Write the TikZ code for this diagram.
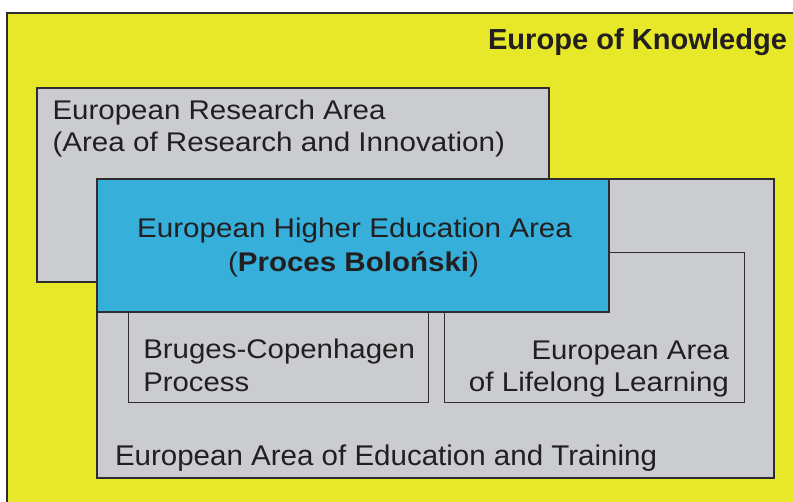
\documentclass[tikz,border=0pt]{standalone}
\usepackage{fontspec}
\usepackage{graphicx}
\setmainfont{Liberation Sans}
\definecolor{kyellow}{RGB}{232,232,42}
\definecolor{kgrey}{RGB}{203,204,208}
\definecolor{kblue}{RGB}{54,175,219}
\definecolor{ktext}{RGB}{35,31,32}
\definecolor{kline}{RGB}{45,45,45}
\tikzset{
  area/.style={draw=kline, line width=1.3pt, inner sep=0pt, outer sep=0pt, anchor=north west},
  subarea/.style={draw=kline, line width=1pt, inner sep=0pt, outer sep=0pt, anchor=north west, fill=kgrey},
  lbl/.style={inner sep=0pt, outer sep=0pt, text=ktext, font=\fontsize{27}{30}\selectfont},
  ttl/.style={inner sep=0pt, outer sep=0pt, text=ktext, font=\fontsize{29}{32}\selectfont\bfseries},
}
\begin{document}
\begin{tikzpicture}[x=1pt,y=-1pt]
\useasboundingbox (0,0) rectangle (793,502);
\clip (0,0) rectangle (793,502);
\fill[white] (0,0) rectangle (793,502);
% outer yellow area
\node[area, fill=kyellow, minimum width=800pt, minimum height=500pt] (europe) at (7,13) {};
\node[ttl, anchor=base west] (europeT) at (488,49.5) {\resizebox{299pt}{\height}{Europe of Knowledge}};
% research area
\node[area, fill=kgrey, minimum width=512pt, minimum height=194pt] (era) at (37,88) {};
\node[lbl, anchor=base west] (eraA) at (52.5,119.3) {\resizebox{333pt}{\height}{European Research Area}};
\node[lbl, anchor=base west] (eraB) at (52.5,151.7) {\resizebox{452.5pt}{\height}{(Area of Research and Innovation)}};
% education and training
\node[area, fill=kgrey, minimum width=677pt, minimum height=299pt] (eaet) at (97,179) {};
\node[lbl, anchor=base west, font=\fontsize{28.5}{31}\selectfont] (eaetT) at (115,466) {\resizebox{542pt}{\height}{European Area of Education and Training}};
% lifelong learning
\node[subarea, minimum width=300pt, minimum height=150pt] (eall) at (444,253) {};
\node[lbl, anchor=base east] (eallA) at (729,360) {\resizebox{197.5pt}{\height}{European Area}};
\node[lbl, anchor=base east] (eallB) at (729,391.7) {\resizebox{260pt}{\height}{of Lifelong Learning}};
% bruges-copenhagen
\node[subarea, minimum width=300pt, minimum height=91pt] (bcp) at (128,312) {};
\node[lbl, anchor=base west] (bcpA) at (143.3,359) {\resizebox{271.7pt}{\height}{Bruges-Copenhagen}};
\node[lbl, anchor=base west] (bcpB) at (143.3,392) {\resizebox{106pt}{\height}{Process}};
% higher education area
\node[area, fill=kblue, minimum width=512pt, minimum height=133pt] (ehea) at (97,179) {};
\node[lbl, anchor=base west] (eheaA) at (137,238) {\resizebox{435pt}{\height}{European Higher Education Area}};
\node[lbl, anchor=base west] (eheaB) at (228,272) {\resizebox{251pt}{\height}{(\textbf{Proces Boloński})}};
\end{tikzpicture}
\end{document}
